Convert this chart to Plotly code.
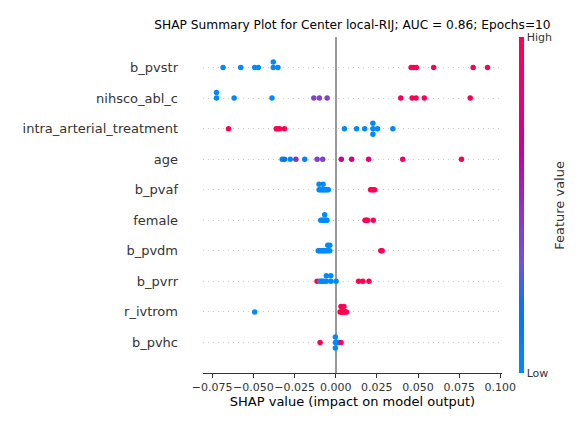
import numpy as np
import plotly.graph_objects as go

# feature names, top to bottom
features = ["b_pvstr", "nihsco_abl_c", "intra_arterial_treatment", "age", "b_pvaf",
            "female", "b_pvdm", "b_pvrr", "r_ivtrom", "b_pvhc"]

# SHAP values per feature
shap_b_pvstr = [-0.0684, -0.0577, -0.0492, -0.0470, -0.0379, -0.0379, -0.0351,
                0.0458, 0.0474, 0.0490, 0.0595, 0.0835, 0.0922]
shap_nihsco = [-0.0724, -0.0724, -0.0617, -0.0387, -0.0133, -0.0099, -0.0052,
               0.0395, 0.0464, 0.0488, 0.0538, 0.0817]
shap_intra = [-0.0651, -0.0361, -0.0351, -0.0341, -0.0311,
              0.0053, 0.0127, 0.0176, 0.0226, 0.0226, 0.0226, 0.0254, 0.0347]
shap_age = [-0.0325, -0.0311, -0.0276, -0.0242, -0.0188, -0.0113, -0.0079,
            0.0034, 0.0097, 0.0200, 0.0407, 0.0764]
shap_b_pvaf = [-0.0101, -0.0101, -0.0093, -0.0085, -0.0077, -0.0077, -0.0069, -0.0061,
               -0.0053, -0.0045, 0.0212, 0.0220, 0.0228, 0.0236]
shap_female = [-0.0091, -0.0083, -0.0075, -0.0067, -0.0067, -0.0059, -0.0053,
               0.0178, 0.0186, 0.0194, 0.0228]
shap_b_pvdm = [-0.0106, -0.0098, -0.0090, -0.0082, -0.0074, -0.0066, -0.0058, -0.0048,
               -0.0048, -0.0036, -0.0036, 0.0274, 0.0282]
shap_b_pvrr = [-0.0113, -0.0097, -0.0089, -0.0081, -0.0071, -0.0057, -0.0057, -0.0030,
               -0.0030, 0.0002, 0.0139, 0.0165, 0.0202]
shap_r_ivtrom = [-0.0492, 0.0027, 0.0032, 0.0032, 0.0040, 0.0045, 0.0050, 0.0050,
                 0.0058, 0.0066]
shap_b_pvhc = [-0.0095, -0.0002, -0.0002, -0.0002, 0.0004, 0.0010, 0.0016, 0.0022, 0.0032]

# normalised feature values (0 = low, 1 = high)
fv_b_pvstr = [0, 0, 0, 0, 0, 0, 0, 1, 1, 1, 1, 1, 1]
fv_nihsco = [0, 0, 0, 0, 0.42, 0.42, 0.42, 0.97, 0.97, 0.97, 0.97, 0.97]
fv_intra = [1, 1, 1, 1, 1, 0, 0, 0, 0, 0, 0, 0, 0]
fv_age = [0.05, 0.2, 0.02, 0.5, 0.05, 0.42, 0.42, 0.7, 0.7, 0.8, 0.9, 0.95]
fv_b_pvaf = [0, 0, 0, 0, 0, 0, 0, 0, 0, 0, 1, 1, 1, 1]
fv_female = [0, 0, 0, 0, 0, 0, 0, 1, 1, 1, 1]
fv_b_pvdm = [0, 0, 0, 0, 0, 0, 0, 0, 0, 0, 0, 1, 1]
fv_b_pvrr = [1, 0, 0, 0, 0, 0, 0, 0, 0, 0, 1, 1, 1]
fv_r_ivtrom = [0, 1, 1, 1, 1, 1, 1, 1, 1, 1]
fv_b_pvhc = [1, 0, 0, 0, 0, 0, 0, 0, 1]

shap_rows = [shap_b_pvstr, shap_nihsco, shap_intra, shap_age, shap_b_pvaf,
             shap_female, shap_b_pvdm, shap_b_pvrr, shap_r_ivtrom, shap_b_pvhc]
fv_rows = [fv_b_pvstr, fv_nihsco, fv_intra, fv_age, fv_b_pvaf,
           fv_female, fv_b_pvdm, fv_b_pvrr, fv_r_ivtrom, fv_b_pvhc]

red_blue = [[0.0, "rgb(0,138,250)"], [0.18, "rgb(0,118,245)"], [0.33, "rgb(110,85,220)"],
            [0.5, "rgb(150,45,195)"], [0.66, "rgb(200,0,160)"], [0.83, "rgb(235,0,120)"],
            [1.0, "rgb(255,0,82)"]]


def swarm(vals, nbins=100, row_height=0.4):
    # same layering as shap's beeswarm
    vals = np.asarray(vals, dtype=float)
    quant = np.round(nbins * (vals - vals.min()) / (vals.max() - vals.min() + 1e-8))
    inds = np.argsort(quant, kind="stable")
    ys = np.zeros(len(vals))
    layer, last = 0, -1
    for ind in inds:
        if quant[ind] != last:
            layer = 0
        ys[ind] = np.ceil(layer / 2) * ((layer % 2) * 2 - 1)
        layer += 1
        last = quant[ind]
    ys *= 0.9 * (row_height / np.max(ys + 1))
    return ys


n = len(features)
xs, ys, cs = [], [], []
for i, (sv, fv) in enumerate(zip(shap_rows, fv_rows)):
    pos = n - 1 - i
    xs += list(sv)
    ys += list(pos + swarm(sv))
    cs += list(fv)

# page body adds ~8px, so the figure is a bit smaller than the window
W, H = 579, 421

fig = go.Figure()
fig.add_trace(go.Scatter(
    x=xs, y=ys, mode="markers", showlegend=False, hoverinfo="skip",
    marker=dict(size=5.5, color=cs, colorscale=red_blue, cmin=0, cmax=1,
                line=dict(width=0),
                colorbar=dict(thickness=5, len=1, lenmode="fraction", y=0.5, yanchor="middle",
                              x=1.058, xanchor="left", outlinewidth=0, xpad=0, ypad=0,
                              tickvals=[0, 1], ticktext=["Low", "High"], ticks="",
                              tickfont=dict(size=11, color="#333333")))))

fig.add_annotation(text="Feature value", textangle=-90, x=1.19, y=0.5, xref="paper", yref="paper",
                   xanchor="center", yanchor="middle", showarrow=False,
                   font=dict(size=13, color="#333333"))

fig.update_layout(
    width=W, height=H,
    margin=dict(l=195, r=85, t=29, b=56, autoexpand=False),
    paper_bgcolor="white", plot_bgcolor="white",
    font=dict(family="DejaVu Sans", color="#333333"),
    title=dict(text="SHAP Summary Plot for Center local-RIJ; AUC = 0.86; Epochs=10",
               x=0.5, xref="paper", xanchor="center", y=1 - 16.5 / H, yref="container",
               yanchor="middle", font=dict(size=12.2, color="black")),
    xaxis=dict(range=[-0.0806, 0.101], tickvals=[-0.075, -0.05, -0.025, 0, 0.025, 0.05, 0.075, 0.1],
               tickformat=".3f", tickangle=0, ticks="outside", ticklen=4, tickcolor="#333333",
               tickfont=dict(size=11, color="#333333"), automargin=False,
               showline=True, linecolor="#333333", linewidth=1, showgrid=False,
               zeroline=True, zerolinecolor="#999999", zerolinewidth=2,
               title=dict(text="SHAP value (impact on model output)", standoff=2,
                          font=dict(size=13, color="black"))),
    yaxis=dict(range=[-1, n], tickvals=list(range(n - 1, -1, -1)), ticktext=features,
               ticks="", ticklabelstandoff=24, tickfont=dict(size=13, color="#333333"),
               automargin=False,
               showgrid=True, gridcolor="#cccccc", gridwidth=0.7, griddash="1px,4px",
               zeroline=False, showline=False),
)

fig.write_html("out.html")
